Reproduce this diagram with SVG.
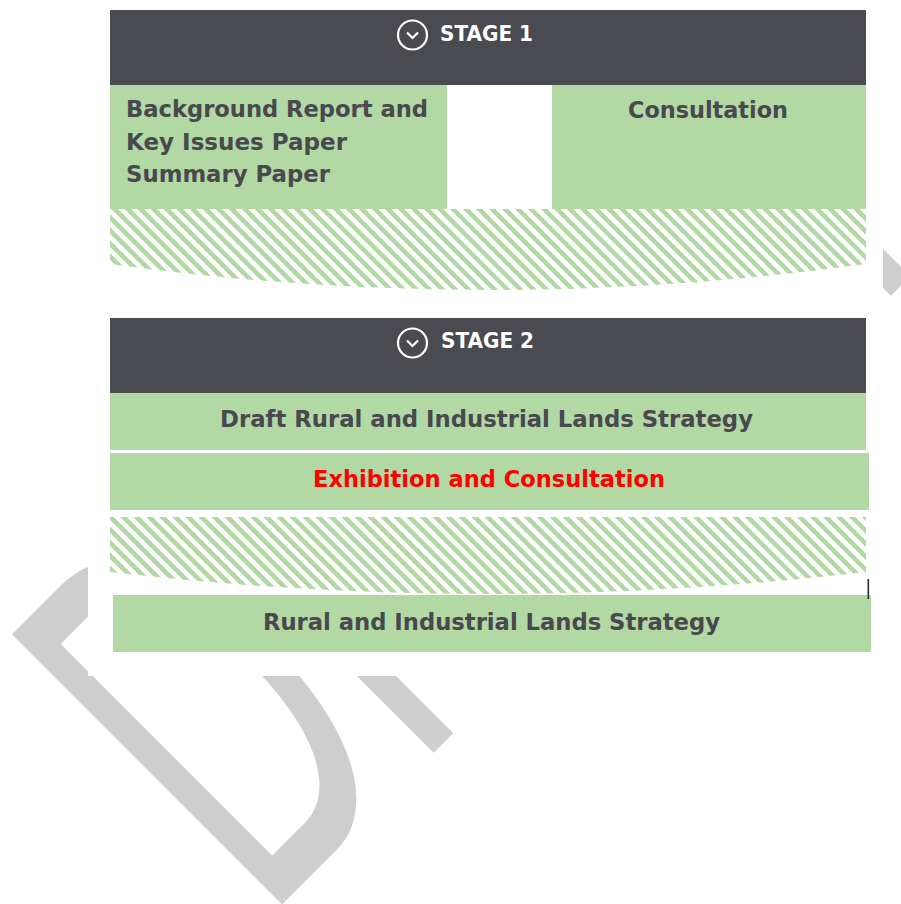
<svg xmlns="http://www.w3.org/2000/svg" width="901" height="904" viewBox="0 0 901 904">
  <style>
    .hdr { fill: #4a4b50; }
    .box { fill: #b2d8a3; }
    .hatch { fill: url(#hatch); }
    .title { font-family: "DejaVu Sans", "Liberation Sans", sans-serif; font-weight: bold; font-size: 20.5px; fill: #ffffff; }
    .lbl { font-family: "DejaVu Sans", "Liberation Sans", sans-serif; font-weight: bold; font-size: 22.7px; fill: #48494e; }
    .red { fill: #ff0000; }
    .icon { fill: none; stroke: #ffffff; stroke-width: 2.2; }
    .mark { font-family: "Liberation Sans", Arial, sans-serif; font-size: 297px; fill: #cecece; }
  </style>
  <defs>
    <pattern id="hatch" patternUnits="userSpaceOnUse" width="10" height="9.2" patternTransform="rotate(45)">
      <rect x="0" y="0" width="10" height="9.2" fill="#ffffff"/>
      <rect x="0" y="0" width="10" height="4.6" fill="#b2d8a3"/>
    </pattern>
    <g id="chev">
      <circle cx="0" cy="0" r="14.5" class="icon"/>
      <polyline points="-5.5,-2.5 0,3 5.5,-2.5" class="icon"/>
    </g>
  </defs>

  <rect x="0" y="0" width="901" height="904" fill="#ffffff"/>

  <!-- diagonal watermark, mostly hidden behind the chart's white panel -->
  <text class="mark" transform="rotate(-45) translate(-464.5 839) scale(1 1.87)">DRAFT</text>
  <rect x="88" y="0" width="795" height="676" fill="#ffffff"/>

  <!-- Stage 1 -->
  <g id="stage1-header">
    <rect class="hdr" x="110" y="10" width="756" height="75"/>
    <use href="#chev" x="412.5" y="35"/>
    <text class="title" x="440" y="41" textLength="93" lengthAdjust="spacingAndGlyphs">STAGE 1</text>
  </g>
  <g id="stage1-papers">
    <rect class="box" x="110" y="85" width="337" height="124"/>
    <text class="lbl" x="126" y="117" textLength="302" lengthAdjust="spacingAndGlyphs">Background Report and</text>
    <text class="lbl" x="126" y="150" textLength="221" lengthAdjust="spacingAndGlyphs">Key Issues Paper</text>
    <text class="lbl" x="126" y="182" textLength="204" lengthAdjust="spacingAndGlyphs">Summary Paper</text>
  </g>
  <g id="stage1-consultation">
    <rect class="box" x="552" y="85" width="314" height="124"/>
    <text class="lbl" x="628" y="118" textLength="160" lengthAdjust="spacingAndGlyphs">Consultation</text>
  </g>
  <g id="stage1-band">
    <path class="hatch" d="M110,209 H866 V264 Q488,316 110,264 Z"/>
  </g>

  <!-- Stage 2 -->
  <g id="stage2-header">
    <rect class="hdr" x="110" y="318" width="756" height="75"/>
    <use href="#chev" x="412.5" y="343"/>
    <text class="title" x="441" y="348" textLength="93" lengthAdjust="spacingAndGlyphs">STAGE 2</text>
  </g>
  <g id="stage2-draft">
    <rect class="box" x="110" y="393" width="756" height="57"/>
    <text class="lbl" x="220" y="427" textLength="533" lengthAdjust="spacingAndGlyphs">Draft Rural and Industrial Lands Strategy</text>
  </g>
  <g id="stage2-exhibition">
    <rect class="box" x="110" y="453" width="759" height="57"/>
    <text class="lbl red" x="313" y="487" textLength="352" lengthAdjust="spacingAndGlyphs">Exhibition and Consultation</text>
  </g>
  <g id="stage2-band">
    <path class="hatch" d="M110,517 H866 V572 Q488,616 110,572 Z"/>
  </g>
  <g id="stage2-final">
    <rect class="box" x="113" y="595" width="758" height="57"/>
    <text class="lbl" x="263" y="630" textLength="457" lengthAdjust="spacingAndGlyphs">Rural and Industrial Lands Strategy</text>
  </g>

  <!-- small caret mark at the right edge -->
  <rect x="867.5" y="579" width="1.6" height="20" fill="#2e2e2e"/>
</svg>
